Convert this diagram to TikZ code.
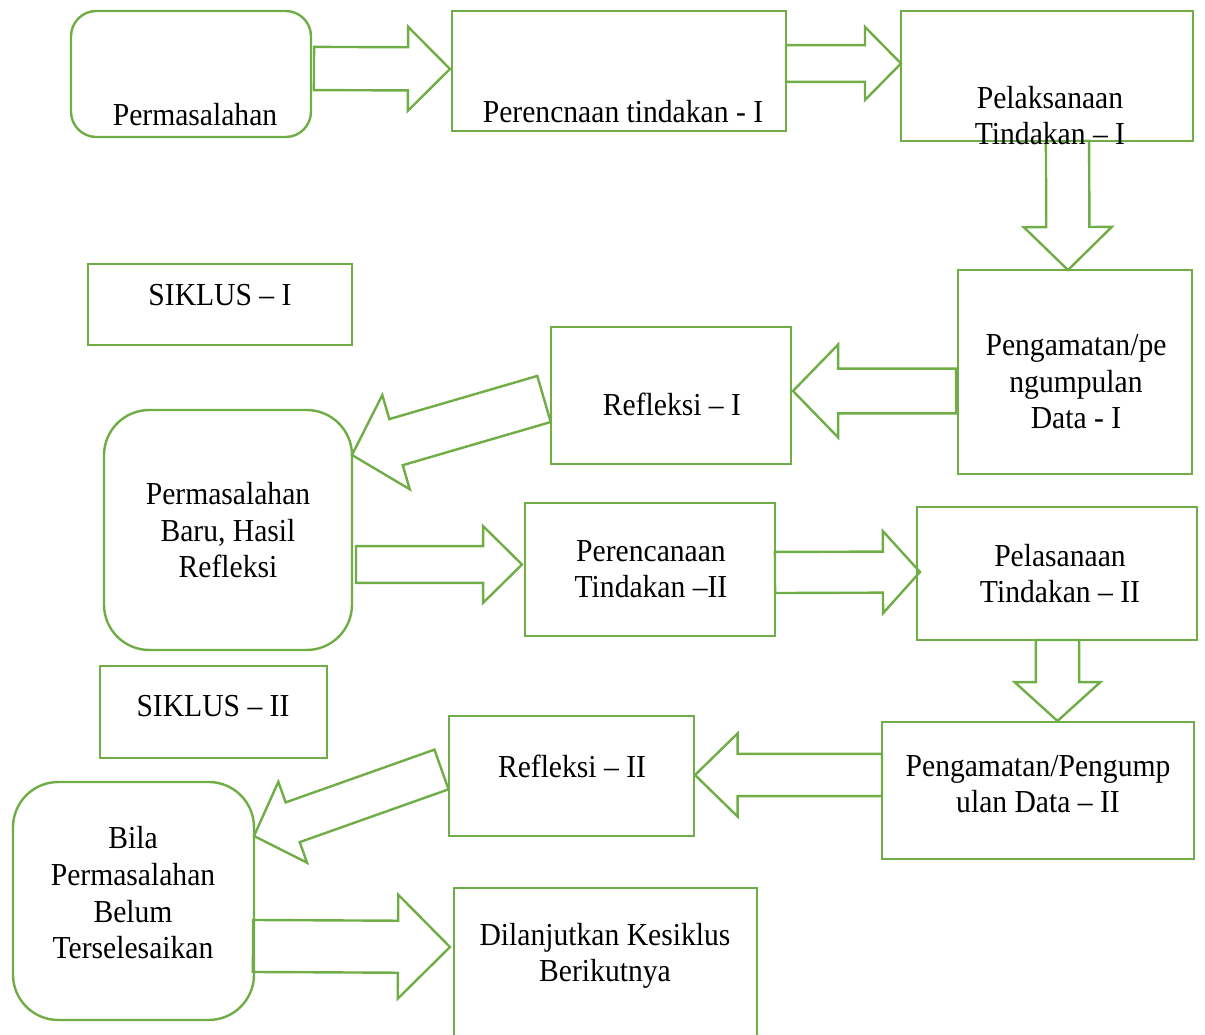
\documentclass[tikz,border=0pt]{standalone}
\usepackage{fontspec}
\setmainfont[FakeStretch=0.925]{Liberation Serif}
\usetikzlibrary{calc}
\definecolor{leafgreen}{RGB}{112,173,71}

% block arrow: tail, tip, shaft half width, head half width, head length
\newcommand{\blockarrow}[5]{%
  \coordinate (ba-neck) at ($(#2)!#5!(#1)$);
  \draw[arrowline] ($(#1)!#3!90:(#2)$) -- ($(ba-neck)!#3!90:(#2)$) -- ($(ba-neck)!#4!90:(#2)$)
    -- (#2) -- ($(ba-neck)!#4!-90:(#2)$) -- ($(ba-neck)!#3!-90:(#2)$) -- ($(#1)!#3!-90:(#2)$) -- cycle;
}

\begin{document}
\begin{tikzpicture}[x=0.375pt, y=-0.375pt,
  box/.style={draw=leafgreen, line width=0.9pt, inner sep=0pt, outer sep=0pt},
  rbox/.style={box, rounded corners=#1},
  sz/.style 2 args={minimum width=#1*0.375pt, minimum height=#2*0.375pt},
  txt/.style={align=center, inner sep=0pt, anchor=base, font=\fontsize{12}{13.8}\selectfont},
  arrowline/.style={draw=leafgreen, line width=0.9pt, line join=miter}]
\clip (0,0) rectangle (1205,1035);
% boxes
\node[rbox=9.5pt, sz={240}{126}] (perm) at (191,74) {};
\node[box, sz={334}{120}] (plan1) at (619,71) {};
\node[box, sz={292}{130}] (act1) at (1047,76) {};
\node[box, sz={234}{204}] (obs1) at (1075,372) {};
\node[box, sz={240}{137}] (ref1) at (671,395.5) {};
\node[box, sz={264}{81}] (cyc1) at (220,304.5) {};
\node[rbox=17pt, sz={248}{240}] (newp) at (228,530) {};
\node[box, sz={250}{133}] (plan2) at (650,569.5) {};
\node[box, sz={280}{133}] (act2) at (1057,573.5) {};
\node[box, sz={227}{92}] (cyc2) at (213.5,712) {};
\node[box, sz={245}{120}] (ref2) at (571.5,776) {};
\node[box, sz={312}{137}] (obs2) at (1038,790.5) {};
\node[rbox=17pt, sz={241}{238}] (bila) at (133.5,901) {};
\node[box, sz={303}{172}] (next) at (605.5,974) {};
% arrow ends
\coordinate (a1s) at (314,68.5);   \coordinate (a1e) at (450,69);
\coordinate (a2s) at (786,63.5);   \coordinate (a2e) at (901,63.5);
\coordinate (a3s) at (1067.5,141); \coordinate (a3e) at (1068,270);
\coordinate (a4s) at (956,391);    \coordinate (a4e) at (793,391);
\coordinate (a5s) at (544,399);    \coordinate (a5e) at (352,455);
\coordinate (a6s) at (356,564.5);  \coordinate (a6e) at (522,564.5);
\coordinate (a7s) at (775,572.5);  \coordinate (a7e) at (920,572);
\coordinate (a8s) at (1057.5,640); \coordinate (a8e) at (1057.5,721);
\coordinate (a9s) at (882,775);    \coordinate (a9e) at (695,775);
\coordinate (a10s) at (441.5,769.5); \coordinate (a10e) at (254,836);
\coordinate (a11s) at (253,946);   \coordinate (a11e) at (450,947);
% block arrows
\blockarrow{a1s}{a1e}{8.1pt}{15.75pt}{15.75pt}
\blockarrow{a2s}{a2e}{6.9pt}{13.7pt}{13.5pt}
\blockarrow{a3s}{a3e}{8.1pt}{16.5pt}{16.1pt}
\blockarrow{a4s}{a4e}{8.4pt}{17.4pt}{16.9pt}
\blockarrow{a5s}{a5e}{9pt}{18.4pt}{17.2pt}
\blockarrow{a6s}{a6e}{6.9pt}{14.4pt}{14.6pt}
\blockarrow{a7s}{a7e}{7.7pt}{15.4pt}{13.9pt}
\blockarrow{a8s}{a8e}{8.1pt}{16.1pt}{14.6pt}
\blockarrow{a9s}{a9e}{7.9pt}{15.6pt}{16pt}
\blockarrow{a10s}{a10e}{7.9pt}{16.1pt}{15.4pt}
\blockarrow{a11s}{a11e}{9.75pt}{19.5pt}{19.5pt}
% texts (placed at the baseline of their last line)
\node[txt] (perm-t) at (195,126) {Permasalahan};
\node[txt] (plan1-t) at (623,123) {Perencnaan tindakan - I};
\node[txt] (act1-t) at (1050,145) {Pelaksanaan\\Tindakan -- I};
\node[txt] (cyc1-t) at (220,306) {SIKLUS -- I};
\node[txt] (obs1-t) at (1076,429) {Pengamatan/pe\\ngumpulan\\Data - I};
\node[txt] (ref1-t) at (672,416) {Refleksi -- I};
\node[txt] (newp-t) at (228,578) {Permasalahan\\Baru, Hasil\\Refleksi};
\node[txt] (plan2-t) at (651,598) {Perencanaan\\Tindakan --II};
\node[txt] (act2-t) at (1060,603) {Pelasanaan\\Tindakan -- II};
\node[txt] (cyc2-t) at (213,717) {SIKLUS -- II};
\node[txt] (ref2-t) at (572,778) {Refleksi -- II};
\node[txt] (obs2-t) at (1038,813) {Pengamatan/Pengump\\ulan Data -- II};
\node[txt] (bila-t) at (133,959) {Bila\\Permasalahan\\Belum\\Terselesaikan};
\node[txt] (next-t) at (605,982) {Dilanjutkan Kesiklus\\Berikutnya};
\end{tikzpicture}
\end{document}
